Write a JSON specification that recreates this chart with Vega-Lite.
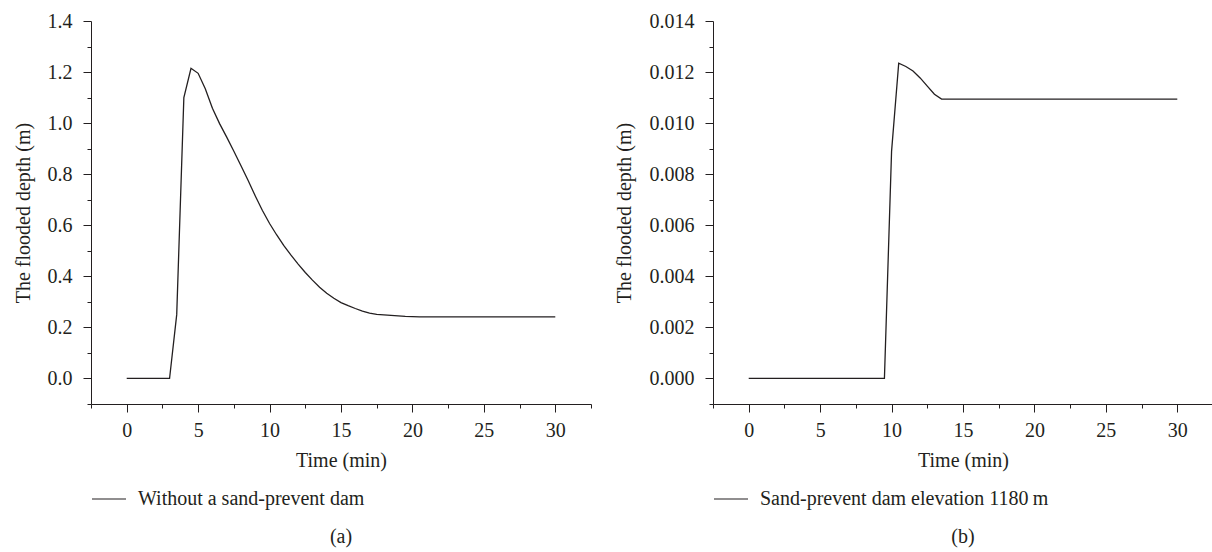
{
  "$schema": "https://vega.github.io/schema/vega-lite/v6.json",
  "autosize": "none",
  "padding": {"left": 91, "top": 21, "right": 1121, "bottom": 531},
  "background": "white",
  "spacing": 122,
  "bounds": "flush",
  "config": {
    "font": "Liberation Serif",
    "view": {"stroke": null},
    "axis": {
      "grid": false,
      "domainColor": "#231f20",
      "tickColor": "#231f20",
      "labelColor": "#231f20",
      "titleColor": "#231f20",
      "labelFont": "Liberation Serif",
      "titleFont": "Liberation Serif",
      "labelFontSize": 20,
      "titleFontSize": 20,
      "titleFontWeight": "normal",
      "domainWidth": 1,
      "tickWidth": 1
    },
    "legend": {
      "labelFont": "Liberation Serif",
      "labelFontSize": 20,
      "labelColor": "#231f20",
      "labelLimit": 0
    },
    "title": {"font": "Liberation Serif", "fontSize": 20, "fontWeight": "normal", "color": "#231f20"}
  },
  "datasets": {
    "a": [
      {"t": 0, "d": 0, "s": "Without a sand-prevent dam"},
      {"t": 1, "d": 0, "s": "Without a sand-prevent dam"},
      {"t": 2, "d": 0, "s": "Without a sand-prevent dam"},
      {"t": 3, "d": 0, "s": "Without a sand-prevent dam"},
      {"t": 3.5, "d": 0.25, "s": "Without a sand-prevent dam"},
      {"t": 4, "d": 1.1, "s": "Without a sand-prevent dam"},
      {"t": 4.5, "d": 1.215, "s": "Without a sand-prevent dam"},
      {"t": 5, "d": 1.195, "s": "Without a sand-prevent dam"},
      {"t": 5.5, "d": 1.135, "s": "Without a sand-prevent dam"},
      {"t": 6, "d": 1.058, "s": "Without a sand-prevent dam"},
      {"t": 6.5, "d": 0.998, "s": "Without a sand-prevent dam"},
      {"t": 7, "d": 0.945, "s": "Without a sand-prevent dam"},
      {"t": 7.5, "d": 0.89, "s": "Without a sand-prevent dam"},
      {"t": 8, "d": 0.833, "s": "Without a sand-prevent dam"},
      {"t": 8.5, "d": 0.775, "s": "Without a sand-prevent dam"},
      {"t": 9, "d": 0.715, "s": "Without a sand-prevent dam"},
      {"t": 9.5, "d": 0.658, "s": "Without a sand-prevent dam"},
      {"t": 10, "d": 0.607, "s": "Without a sand-prevent dam"},
      {"t": 10.5, "d": 0.562, "s": "Without a sand-prevent dam"},
      {"t": 11, "d": 0.52, "s": "Without a sand-prevent dam"},
      {"t": 11.5, "d": 0.483, "s": "Without a sand-prevent dam"},
      {"t": 12, "d": 0.448, "s": "Without a sand-prevent dam"},
      {"t": 12.5, "d": 0.415, "s": "Without a sand-prevent dam"},
      {"t": 13, "d": 0.385, "s": "Without a sand-prevent dam"},
      {"t": 13.5, "d": 0.357, "s": "Without a sand-prevent dam"},
      {"t": 14, "d": 0.334, "s": "Without a sand-prevent dam"},
      {"t": 14.5, "d": 0.314, "s": "Without a sand-prevent dam"},
      {"t": 15, "d": 0.297, "s": "Without a sand-prevent dam"},
      {"t": 15.5, "d": 0.285, "s": "Without a sand-prevent dam"},
      {"t": 16, "d": 0.274, "s": "Without a sand-prevent dam"},
      {"t": 16.5, "d": 0.264, "s": "Without a sand-prevent dam"},
      {"t": 17, "d": 0.256, "s": "Without a sand-prevent dam"},
      {"t": 17.5, "d": 0.251, "s": "Without a sand-prevent dam"},
      {"t": 18, "d": 0.249, "s": "Without a sand-prevent dam"},
      {"t": 18.5, "d": 0.247, "s": "Without a sand-prevent dam"},
      {"t": 19, "d": 0.245, "s": "Without a sand-prevent dam"},
      {"t": 19.5, "d": 0.243, "s": "Without a sand-prevent dam"},
      {"t": 20, "d": 0.242, "s": "Without a sand-prevent dam"},
      {"t": 20.5, "d": 0.241, "s": "Without a sand-prevent dam"},
      {"t": 22, "d": 0.241, "s": "Without a sand-prevent dam"},
      {"t": 24, "d": 0.241, "s": "Without a sand-prevent dam"},
      {"t": 26, "d": 0.241, "s": "Without a sand-prevent dam"},
      {"t": 28, "d": 0.241, "s": "Without a sand-prevent dam"},
      {"t": 30, "d": 0.241, "s": "Without a sand-prevent dam"}
    ],
    "b": [
      {"t": 0, "d": 0, "s": "Sand-prevent dam elevation 1180\u2009m"},
      {"t": 2, "d": 0, "s": "Sand-prevent dam elevation 1180\u2009m"},
      {"t": 4, "d": 0, "s": "Sand-prevent dam elevation 1180\u2009m"},
      {"t": 6, "d": 0, "s": "Sand-prevent dam elevation 1180\u2009m"},
      {"t": 8, "d": 0, "s": "Sand-prevent dam elevation 1180\u2009m"},
      {"t": 9.5, "d": 0, "s": "Sand-prevent dam elevation 1180\u2009m"},
      {"t": 10, "d": 0.0089, "s": "Sand-prevent dam elevation 1180\u2009m"},
      {"t": 10.5, "d": 0.01235, "s": "Sand-prevent dam elevation 1180\u2009m"},
      {"t": 11, "d": 0.01222, "s": "Sand-prevent dam elevation 1180\u2009m"},
      {"t": 11.5, "d": 0.01204, "s": "Sand-prevent dam elevation 1180\u2009m"},
      {"t": 12, "d": 0.01177, "s": "Sand-prevent dam elevation 1180\u2009m"},
      {"t": 12.5, "d": 0.01145, "s": "Sand-prevent dam elevation 1180\u2009m"},
      {"t": 13, "d": 0.01113, "s": "Sand-prevent dam elevation 1180\u2009m"},
      {"t": 13.5, "d": 0.01094, "s": "Sand-prevent dam elevation 1180\u2009m"},
      {"t": 16, "d": 0.01094, "s": "Sand-prevent dam elevation 1180\u2009m"},
      {"t": 20, "d": 0.01094, "s": "Sand-prevent dam elevation 1180\u2009m"},
      {"t": 25, "d": 0.01094, "s": "Sand-prevent dam elevation 1180\u2009m"},
      {"t": 30, "d": 0.01094, "s": "Sand-prevent dam elevation 1180\u2009m"}
    ]
  },
  "resolve": {"scale": {"color": "independent"}, "legend": {"color": "independent"}},
  "hconcat": [
    {
      "width": 500,
      "height": 383,
      "data": {"name": "a"},
      "title": {"text": "(a)", "orient": "bottom", "anchor": "middle", "offset": 18},
      "mark": {"type": "line", "strokeWidth": 1.3, "interpolate": "linear"},
      "encoding": {
        "x": {
          "field": "t", "type": "quantitative",
          "scale": {"domain": [-2.5, 32.5], "nice": false, "zero": false},
          "axis": {
            "title": "Time (min)",
            "values": [-2.5, 0, 2.5, 5, 7.5, 10, 12.5, 15, 17.5, 20, 22.5, 25, 27.5, 30, 32.5],
            "labelExpr": "datum.value % 5 === 0 ? format(datum.value, 'd') : ''",
            "tickSize": {"condition": {"test": "datum.value % 5 === 0", "value": 8}, "value": 4},
            "labelPadding": 8,
            "titlePadding": 10
          }
        },
        "y": {
          "field": "d", "type": "quantitative",
          "scale": {"domain": [-0.1, 1.4], "nice": false, "zero": false},
          "axis": {
            "title": "The flooded depth (m)",
            "values": [-0.1, 0, 0.1, 0.2, 0.3, 0.4, 0.5, 0.6, 0.7, 0.8, 0.9, 1.0, 1.1, 1.2, 1.3, 1.4],
            "labelExpr": "abs(round(datum.value * 10)) % 2 === 0 && datum.value >= 0 ? format(datum.value, '.1f') : ''",
            "tickSize": {"condition": {"test": "abs(round(datum.value * 10)) % 2 === 0 && datum.value >= 0", "value": 8}, "value": 4},
            "labelPadding": 11,
            "titlePadding": 14
          }
        },
        "color": {
          "field": "s", "type": "nominal",
          "scale": {"range": ["#231f20"]},
          "legend": {
            "title": null,
            "orient": "none",
            "legendX": 0,
            "legendY": 460,
            "symbolType": "stroke",
            "symbolSize": 1156,
            "symbolStrokeWidth": 1.2,
            "labelOffset": 11
          }
        }
      }
    },
    {
      "width": 500,
      "height": 383,
      "data": {"name": "b"},
      "title": {"text": "(b)", "orient": "bottom", "anchor": "middle", "offset": 18},
      "mark": {"type": "line", "strokeWidth": 1.3, "interpolate": "linear"},
      "encoding": {
        "x": {
          "field": "t", "type": "quantitative",
          "scale": {"domain": [-2.5, 32.5], "nice": false, "zero": false},
          "axis": {
            "title": "Time (min)",
            "values": [-2.5, 0, 2.5, 5, 7.5, 10, 12.5, 15, 17.5, 20, 22.5, 25, 27.5, 30, 32.5],
            "labelExpr": "datum.value % 5 === 0 ? format(datum.value, 'd') : ''",
            "tickSize": {"condition": {"test": "datum.value % 5 === 0", "value": 8}, "value": 4},
            "labelPadding": 8,
            "titlePadding": 10
          }
        },
        "y": {
          "field": "d", "type": "quantitative",
          "scale": {"domain": [-0.001, 0.014], "nice": false, "zero": false},
          "axis": {
            "title": "The flooded depth (m)",
            "values": [-0.001, 0, 0.001, 0.002, 0.003, 0.004, 0.005, 0.006, 0.007, 0.008, 0.009, 0.01, 0.011, 0.012, 0.013, 0.014],
            "labelExpr": "abs(round(datum.value * 1000)) % 2 === 0 && datum.value >= 0 ? format(datum.value, '.3f') : ''",
            "tickSize": {"condition": {"test": "abs(round(datum.value * 1000)) % 2 === 0 && datum.value >= 0", "value": 8}, "value": 4},
            "labelPadding": 11,
            "titlePadding": 15
          }
        },
        "color": {
          "field": "s", "type": "nominal",
          "scale": {"range": ["#231f20"]},
          "legend": {
            "title": null,
            "orient": "none",
            "legendX": 0,
            "legendY": 460,
            "symbolType": "stroke",
            "symbolSize": 1156,
            "symbolStrokeWidth": 1.2,
            "labelOffset": 11
          }
        }
      }
    }
  ]
}
